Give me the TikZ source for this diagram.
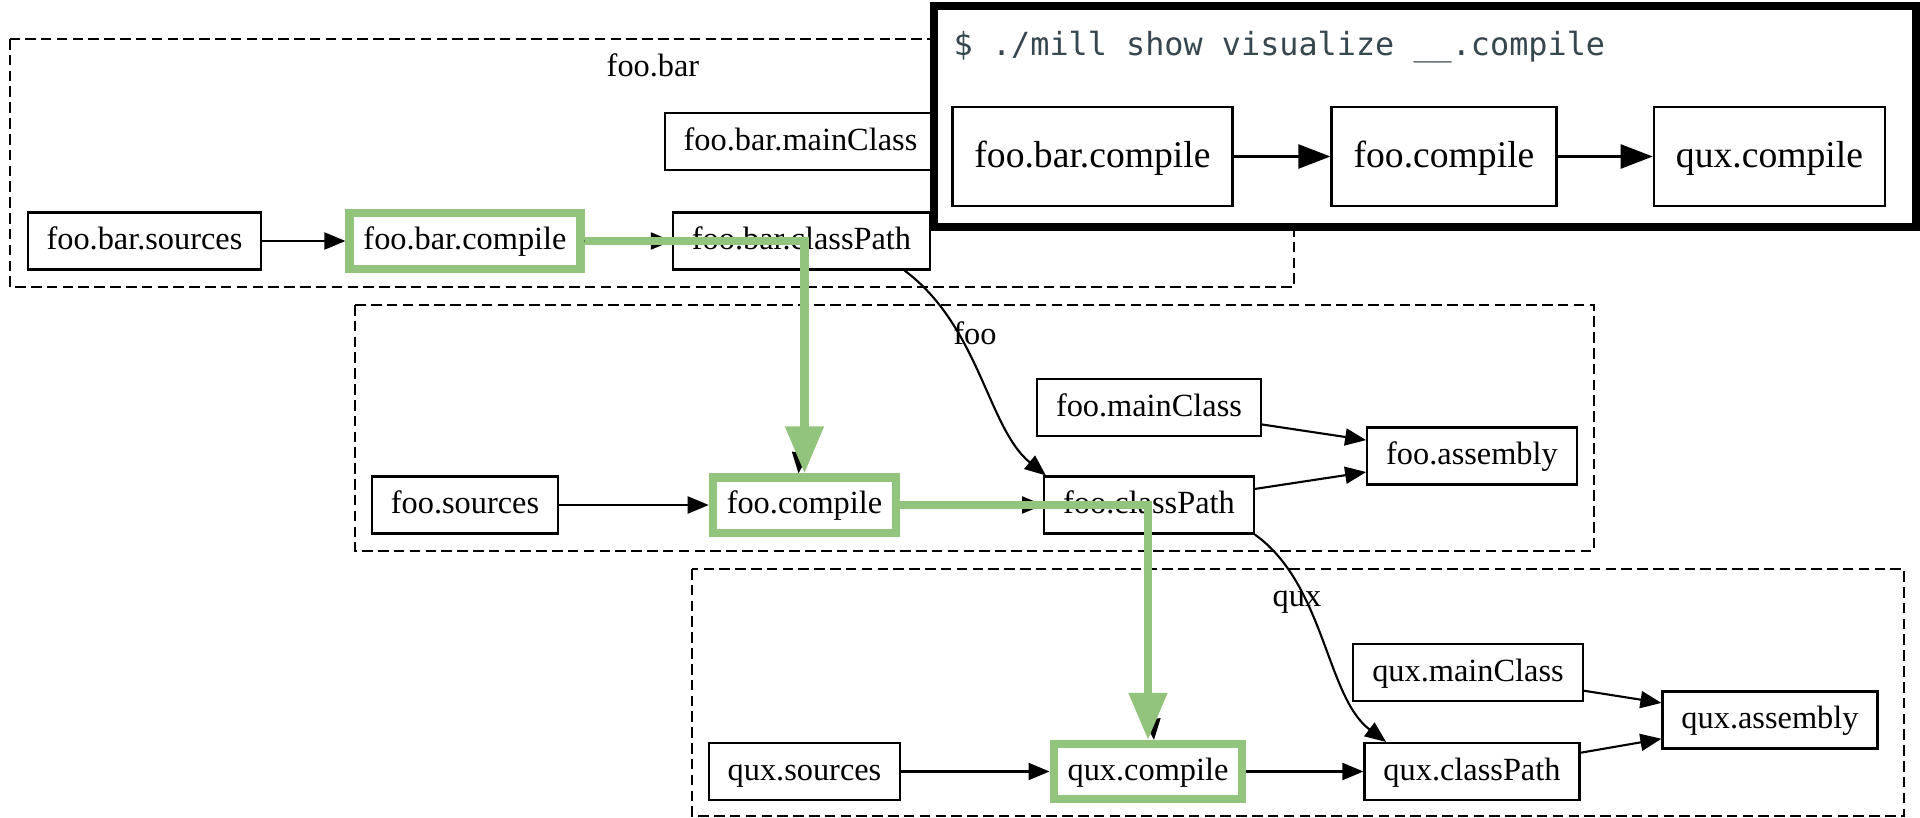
\documentclass[tikz,border=0pt]{standalone}
\usepackage{fontspec}
\setmainfont{Liberation Serif}
\newfontfamily\termfont{DejaVu Sans Mono}
\usepackage{tikz}
\usetikzlibrary{arrows.meta,calc}
\usepackage{xcolor}
\definecolor{pathgreen}{HTML}{93C47D}
\definecolor{termgray}{HTML}{37474F}
\tikzstyle{cluster}=[draw, line width=0.6pt, dash pattern=on 3pt off 1.5pt]
\tikzstyle{lbl}=[inner sep=0pt, font=\fontsize{9.2}{11}\selectfont]
\tikzstyle{box}=[draw, line width=0.6pt, inner xsep=0.19cm, minimum height=0.57cm, text height=7pt, text depth=2pt, font=\fontsize{9.2}{11}\selectfont]
\tikzstyle{greenbox}=[box, draw=pathgreen, line width=2.3pt, inner xsep=0.14cm, minimum height=0.53cm]
\tikzstyle{bigbox}=[draw, line width=0.7pt, inner xsep=0.22cm, minimum height=0.99cm, text height=8.5pt, text depth=2pt, font=\fontsize{10.7}{13}\selectfont]
\tikzstyle{edge}=[line width=0.6pt, -{Triangle[length=0.21cm,width=0.17cm]}]
\tikzstyle{bigedge}=[line width=0.7pt, -{Triangle[length=0.32cm,width=0.24cm]}]
\tikzstyle{greenpath}=[draw=pathgreen, line width=2.3pt, -{Triangle[length=0.47cm,width=0.37cm]}]
\tikzstyle{term}=[draw, fill=white, line width=0.08cm]
\tikzstyle{cmd}=[anchor=base west, inner sep=0pt, text=termgray, font=\termfont\fontsize{9.05}{11}\selectfont]

\begin{document}
\begin{tikzpicture}[x=0.01cm,y=-0.01cm]
	\useasboundingbox (0,0) rectangle (1920,818);
	\draw[cluster] (10,39) rectangle (1294,287);
	\draw[cluster] (355,305) rectangle (1594,551);
	\draw[cluster] (692,569) rectangle (1904,816);
	\node[lbl] (foobarlbl) at (653,65) {foo.bar};
	\node[lbl] (foolbl) at (975,333) {foo};
	\node[lbl] (quxlbl) at (1297,602) {qux};

	\node[box] (fbmain) at (800.5,141.5) {foo.bar.mainClass};
	\node[box] (fbsrc) at (144.5,241) {foo.bar.sources};
	\node[greenbox] (fbcomp) at (465,241) {foo.bar.compile};
	\node[box] (fbcp) at (801.5,241) {foo.bar.classPath};

	\node[box] (fmain) at (1149,407.5) {foo.mainClass};
	\node[box] (fasm) at (1472,456) {foo.assembly};
	\node[box] (fsrc) at (465,505) {foo.sources};
	\node[greenbox] (fcomp) at (804.5,505) {foo.compile};
	\node[box] (fcp) at (1149,505) {foo.classPath};

	\node[box] (qmain) at (1468,672.5) {qux.mainClass};
	\node[box] (qasm) at (1770,720) {qux.assembly};
	\node[box] (qsrc) at (804.5,771.5) {qux.sources};
	\node[greenbox] (qcomp) at (1148,771.5) {qux.compile};
	\node[box] (qcp) at (1472,771.5) {qux.classPath};

	\draw[edge] (fbsrc) -- (fbcomp);
	\draw[edge] (fbcomp) -- (fbcp);
	\draw[edge] (fbcp.-16) .. controls +(75,56) and +(-58,-47) .. (fcp.164);
	\draw[edge] (fbcomp.east) -| ($(fcomp.north)+(0,-60)$) -- ($(fcomp.north)+(-6,0)$);
	\draw[edge] (fsrc) -- (fcomp);
	\draw[edge] (fcomp) -- (fcp);
	\draw[edge] (fmain) -- (fasm);
	\draw[edge] (fcp) -- (fasm);
	\draw[edge] (fcp.south east) .. controls +(70,50) and +(-60,-45) .. (qcp.161);
	\draw[edge] (fcomp.east) -| ($(qcomp.north)+(0,-60)$) -- ($(qcomp.north)+(6,0)$);
	\draw[edge] (qsrc) -- (qcomp);
	\draw[edge] (qcomp) -- (qcp);
	\draw[edge] (qmain) -- (qasm);
	\draw[edge] (qcp) -- (qasm);

	\draw[greenpath] (fbcomp.east) -| (fcomp.north);
	\draw[greenpath] (fcomp.east) -| (qcomp.north);

	\draw[term] (934,6) rectangle (1916,227);
	\node[cmd] (cmd) at (953,55) {\$ ./mill show visualize \_\_.compile};
	\node[bigbox] (tbcomp) at (1092.5,156.5) {foo.bar.compile};
	\node[bigbox] (tfcomp) at (1444,156.5) {foo.compile};
	\node[bigbox] (tqcomp) at (1769.5,156.5) {qux.compile};
	\draw[bigedge] (tbcomp) -- (tfcomp);
	\draw[bigedge] (tfcomp) -- (tqcomp);
\end{tikzpicture}
\end{document}
